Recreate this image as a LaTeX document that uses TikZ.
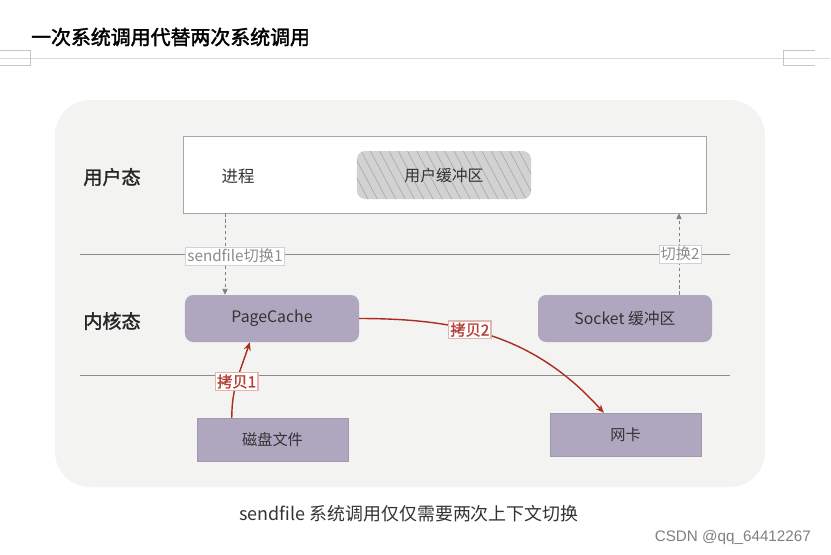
\documentclass[tikz,border=0pt]{standalone}
\usepackage{fontspec}
\setmainfont{Noto Sans CJK SC}
\newfontfamily\titlefont{Noto Sans CJK SC}[FakeBold=2]
\newfontfamily\modefont{Noto Sans CJK SC}[FakeBold=1.6]
\newfontfamily\markfont{Liberation Sans}
\usetikzlibrary{arrows.meta,patterns.meta}
\definecolor{panelgray}{RGB}{243,243,241}
\definecolor{boxpurple}{RGB}{174,167,191}
\definecolor{copyred}{RGB}{172,45,32}

\begin{document}
\begin{tikzpicture}[
  x=0.03cm,y=-0.03cm,
  kbox/.style={fill=boxpurple,rounded corners=7pt,minimum width=5.22cm,minimum height=1.41cm,text=black!80,font=\fontsize{13.5}{16}\selectfont},
  hwbox/.style={fill=boxpurple,draw=boxpurple!70!gray,minimum width=4.53cm,minimum height=1.29cm,text=black!80,font=\fontsize{13}{16}\selectfont},
  modelabel/.style={font=\modefont\fontsize{16.3}{19}\selectfont,text=black!85},
  switch/.style={densely dashed,gray,semithick,-{Triangle[length=5pt,width=4.5pt]}},
  swlabel/.style={draw=gray!35,fill=white,text=gray!90,inner sep=1.5pt,font=\fontsize{13}{15}\selectfont},
  copy/.style={copyred,line width=1.2pt,-{Stealth[length=7pt,width=6pt]}},
  cplabel/.style={draw=copyred!35,fill=white,text=copyred!90,inner sep=1.5pt,font=\modefont\fontsize{13}{15}\selectfont},
  layer/.style={gray!90,semithick}
]
  \useasboundingbox (0,0) rectangle (831,555);

  \node[anchor=west,font=\titlefont\fontsize{17}{20}\selectfont] (title) at (27,37) {一次系统调用代替两次系统调用};
  \draw[gray!30] (0,58) -- (830,58);
  \draw[gray!45] (0,50) -- (30,50) -- (30,65) -- (0,65);
  \draw[gray!45] (815,50) -- (783,50) -- (783,65) -- (815,65);

  \fill[panelgray,rounded corners=30pt] (55,100) rectangle (765,487);
  \draw[layer] (80,254) -- (730,254);
  \draw[layer] (80,375) -- (730,375);

  \node[draw=gray!70,fill=white,minimum width=15.69cm,minimum height=2.31cm] (user) at (444.5,174.5) {};
  \node[fill=gray!35,rounded corners=7pt,minimum width=5.22cm,minimum height=1.44cm,
        postaction={pattern={Lines[angle=-62,distance=7pt,line width=0.5pt]},pattern color=gray!70}] (ubuf) at (444,175) {};
  \node[text=black!80,font=\fontsize{13.5}{16}\selectfont] (ubuftxt) at (ubuf) {用户缓冲区};
  \node[text=black!80,font=\fontsize{14}{16}\selectfont] (proc) at (238,176) {进程};

  \node[modelabel] (umode) at (112,177) {用户态};
  \node[modelabel] (kmode) at (112,321) {内核态};

  \node[kbox] (pc) at (272,318.5) {PageCache};
  \node[kbox] (sock) at (625,318.5) {Socket 缓冲区};
  \node[hwbox] (disk) at (272.5,439.5) {磁盘文件};
  \node[hwbox] (nic) at (625.5,434.5) {网卡};

  \coordinate (sw1) at (225,0);
  \coordinate (sw2) at (679,0);
  \draw[switch] (user.south -| sw1) -- (pc.north -| sw1);
  \draw[switch] (sock.north -| sw2) -- (user.south -| sw2);
  \node[swlabel] (sw1lbl) at (235,256) {sendfile切换1};
  \node[swlabel] (sw2lbl) at (680,254) {切换2};

  \draw[copy] ([xshift=1.05cm]disk.north west) to[out=90,in=-108] node[cplabel,pos=0.47] {拷贝1} ([xshift=1.95cm]pc.south west);
  \draw[copy] (pc.east) to[out=0,in=132] node[cplabel,pos=0.4] {拷贝2} ([xshift=1.62cm]nic.north west);

  \node[text=black!80,font=\fontsize{15.3}{18}\selectfont] (caption) at (409,514) {sendfile 系统调用仅仅需要两次上下文切换};
  \node[anchor=east,text=gray,font=\markfont\fontsize{13}{15}\selectfont] (mark) at (815,538) {CSDN @qq\_64412267};
\end{tikzpicture}
\end{document}
